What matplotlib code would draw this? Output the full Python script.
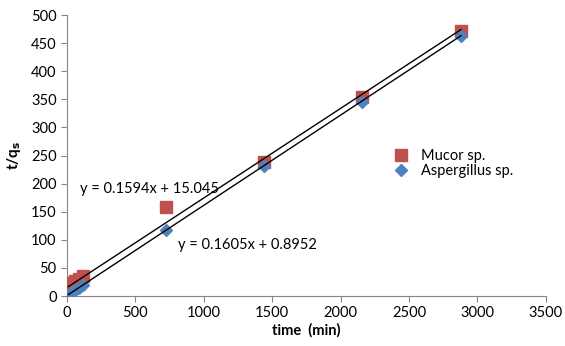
import matplotlib
matplotlib.use("Agg")
import matplotlib.pyplot as plt
import numpy as np

plt.rcParams['font.family'] = ['Lato', 'DejaVu Sans']

# Data (time in min, t/q)
mucor_t = [10, 20, 30, 45, 60, 90, 120, 720, 1440, 2160, 2880]
mucor_y = [12, 15, 19, 23, 27, 31, 36, 158, 239, 354, 472]
asp_t = [10, 20, 30, 45, 60, 90, 120, 720, 1440, 2160, 2880]
asp_y = [2, 4, 6, 8, 10, 15, 20, 117, 232, 346, 463]

mucor_fit = (0.1594, 15.045)
asp_fit = (0.1605, 0.8952)

xticks = [0, 500, 1000, 1500, 2000, 2500, 3000, 3500]
yticks = [0, 50, 100, 150, 200, 250, 300, 350, 400, 450, 500]

fig = plt.figure(figsize=(5.65, 3.46), dpi=100)
ax = fig.add_axes([0.1186, 0.1445, 0.8474, 0.8121])

red = '#C0504D'
blue = '#4F81BD'

ax.plot(mucor_t, mucor_y, 's', color=red, markersize=8, label='Mucor sp.', zorder=3)
ax.plot(asp_t, asp_y, 'D', color=blue, markersize=6.5, label='Aspergillus sp.', zorder=4)

xs = np.array([min(mucor_t), max(mucor_t)])
ax.plot(xs, mucor_fit[0] * xs + mucor_fit[1], color='black', lw=1, zorder=5)
xs2 = np.array([min(asp_t), max(asp_t)])
ax.plot(xs2, asp_fit[0] * xs2 + asp_fit[1], color='black', lw=1, zorder=5)

ax.set_xlim(0, 3500)
ax.set_ylim(0, 500)
ax.set_xticks(xticks)
ax.set_yticks(yticks)
ax.tick_params(axis='both', labelsize=10.5, direction='out', length=4, color='#868686', width=0.8)
for s in ['top', 'right']:
    ax.spines[s].set_visible(False)
for s in ['left', 'bottom']:
    ax.spines[s].set_color('#868686')
    ax.spines[s].set_linewidth(0.8)

ax.set_xlabel('time  (min)', fontsize=10.5, fontweight='bold', labelpad=2)
ax.set_ylabel(r't/q$_\mathbf{s}$', fontsize=11, fontweight='bold', labelpad=6)

fig.text(80 / 565, 1 - 189 / 346, 'y = 0.1594x + 15.045', fontsize=10.5, va='center', ha='left')
fig.text(178 / 565, 1 - 245 / 346, 'y = 0.1605x + 0.8952', fontsize=10.5, va='center', ha='left')

leg = fig.legend(loc='upper left', bbox_to_anchor=(385 / 565, 1 - 142 / 346), frameon=False, fontsize=10.5,
                 handletextpad=0.8, labelspacing=0.05, handlelength=1.2, borderpad=0)

fig.savefig('out.png', dpi=100)
